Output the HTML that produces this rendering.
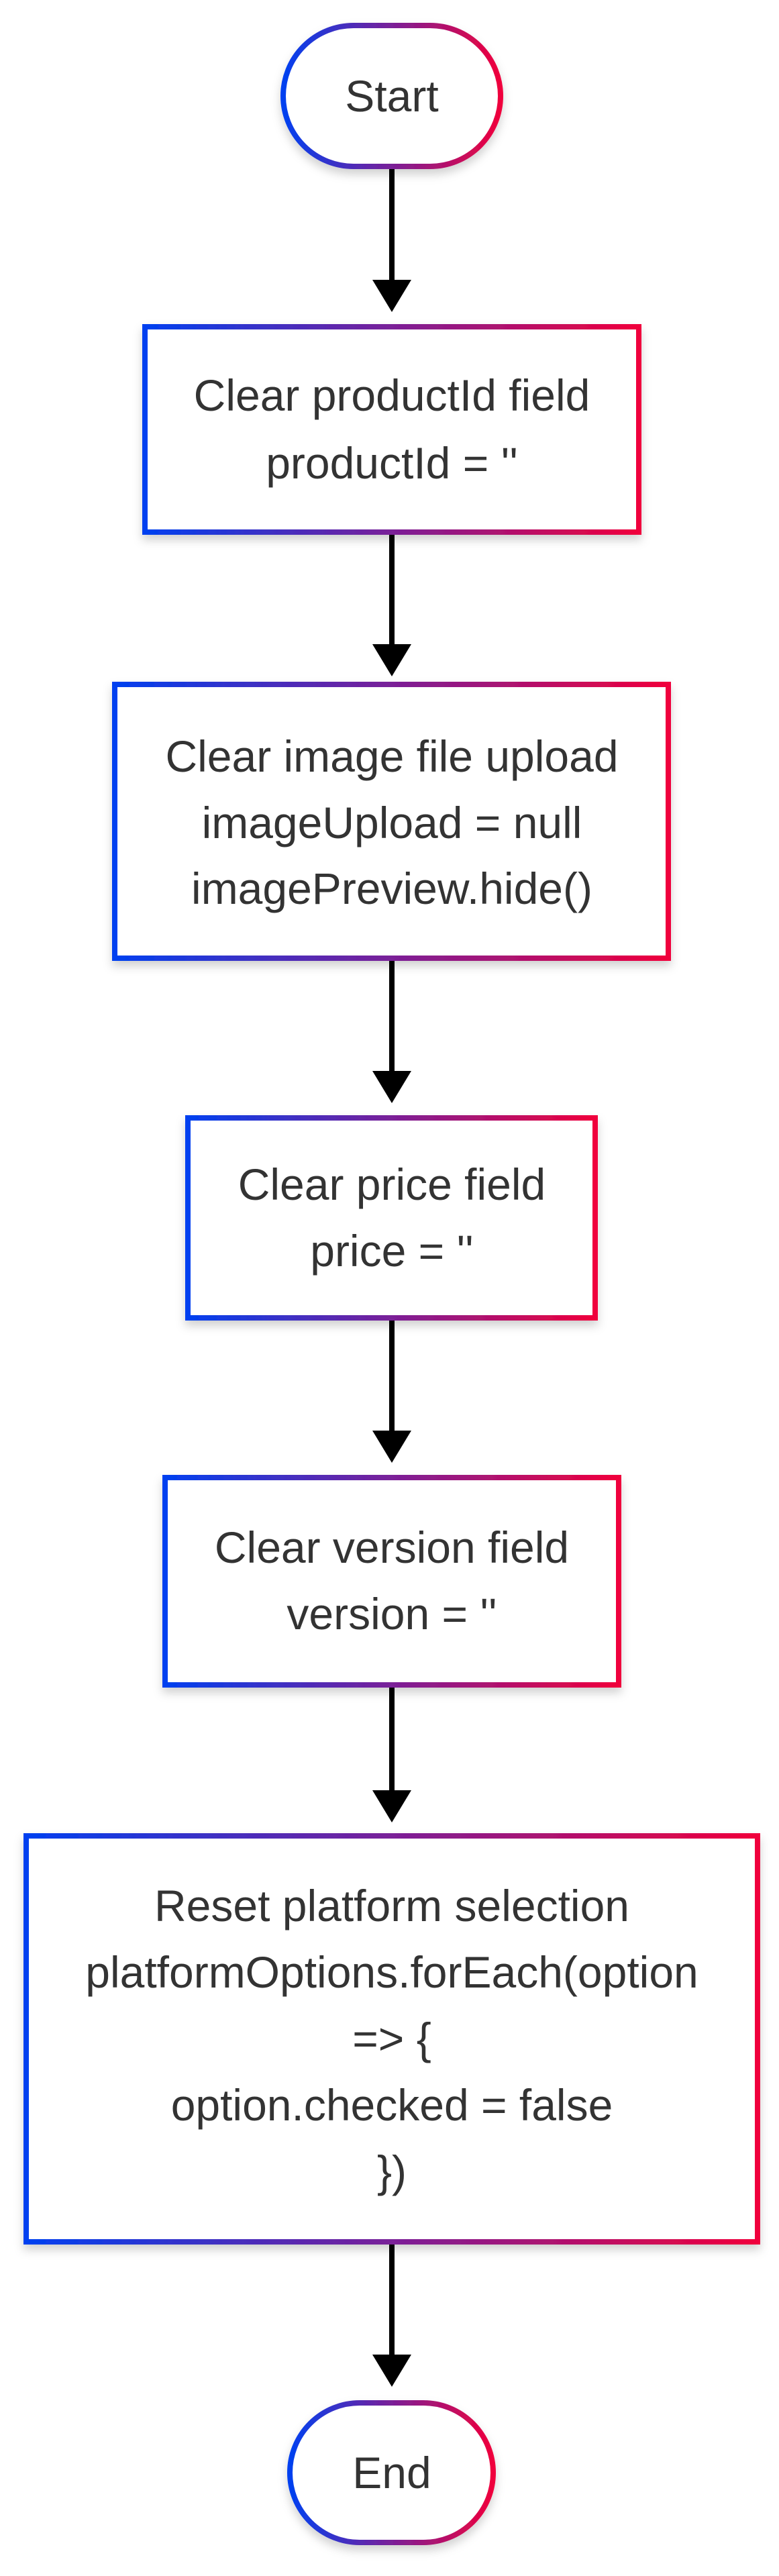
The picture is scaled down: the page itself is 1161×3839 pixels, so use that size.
<!DOCTYPE html>
<html><head><meta charset="utf-8"><style>
html,body{margin:0;padding:0;background:#fff;width:1161px;height:3839px;overflow:hidden}
text{font-family:"Liberation Sans",Arial,sans-serif;font-size:66px;fill:#333;text-anchor:middle}
</style></head><body>
<svg width="1161" height="3839" viewBox="0 0 1161 3839" xmlns="http://www.w3.org/2000/svg">
<defs>
<linearGradient id="g" x1="0" y1="0" x2="1" y2="0">
<stop offset="0" stop-color="#0040f0"/><stop offset="0.5" stop-color="#7a2098"/><stop offset="1" stop-color="#f0003c"/>
</linearGradient>
<filter id="s" x="-10%" y="-10%" width="120%" height="130%"><feDropShadow dx="0" dy="8" stdDeviation="7" flood-color="#000" flood-opacity="0.18"/></filter>
</defs>
<g stroke="#000" stroke-width="8">
<line x1="584" y1="252" x2="584" y2="420"/>
<line x1="584" y1="797" x2="584" y2="962"/>
<line x1="584" y1="1432" x2="584" y2="1598"/>
<line x1="584" y1="1968" x2="584" y2="2134"/>
<line x1="584" y1="2515" x2="584" y2="2670"/>
<line x1="584" y1="3345" x2="584" y2="3511"/>
</g>
<g fill="#000">
<polygon points="555,417 613,417 584,465"/>
<polygon points="555,960 613,960 584,1008"/>
<polygon points="555,1596 613,1596 584,1644"/>
<polygon points="555,2132 613,2132 584,2180"/>
<polygon points="555,2668 613,2668 584,2716"/>
<polygon points="555,3509 613,3509 584,3557"/>
</g>
<g fill="#fff" stroke="url(#g)" stroke-width="8" filter="url(#s)">
<rect x="422" y="38" width="324" height="210" rx="105"/>
<rect x="216" y="487" width="736" height="306"/>
<rect x="171" y="1020" width="825" height="408"/>
<rect x="280" y="1666" width="607" height="298"/>
<rect x="246" y="2202" width="676" height="309"/>
<rect x="39" y="2736" width="1090" height="605"/>
<rect x="432" y="3581" width="303" height="208" rx="104"/>
</g>
<text x="584" y="166">Start</text>
<text x="584" y="612">Clear productId field</text>
<text x="584" y="713">productId = ''</text>
<text x="584" y="1150">Clear image file upload</text>
<text x="584" y="1249">imageUpload = null</text>
<text x="584" y="1347">imagePreview.hide()</text>
<text x="584" y="1788">Clear price field</text>
<text x="584" y="1887">price = ''</text>
<text x="584" y="2329">Clear version field</text>
<text x="584" y="2428">version = ''</text>
<text x="584" y="2863">Reset platform selection</text>
<text x="584" y="2962">platformOptions.forEach(option</text>
<text x="584" y="3061">=&gt; {</text>
<text x="584" y="3160">option.checked = false</text>
<text x="584" y="3259">})</text>
<text x="584" y="3708">End</text>
</svg>
</body></html>
